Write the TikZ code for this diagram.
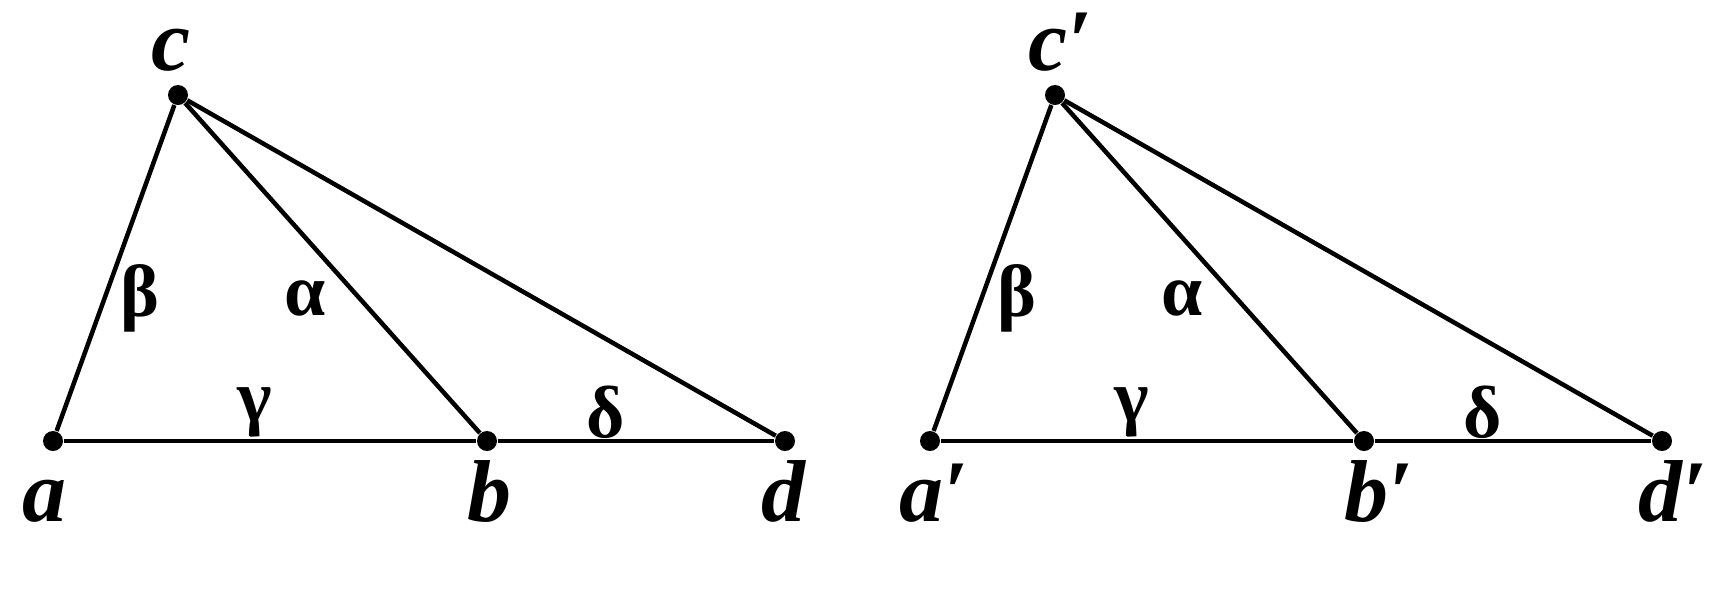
\documentclass[tikz,border=0pt]{standalone}
\usepackage{fontspec}
\setmainfont{Liberation Serif}
\usepackage{tikz}
\usetikzlibrary{positioning}

\tikzset{
  pt/.style={circle, fill=black, inner sep=0pt, minimum size=2mm},
  side/.style={line width=0.45mm},
  lbl/.style={font=\fontsize{25}{25}\selectfont\bfseries\itshape, inner sep=0pt, anchor=base west},
  gk/.style={font=\fontsize{21}{21}\selectfont\bfseries}
}

\begin{document}
\begin{tikzpicture}
\useasboundingbox (0,0) rectangle (17.25,5.99);

% Two triangles: original (left) and primed copy (right)
\foreach \sx/\pr in {0/{},8.77/{′}} {
\begin{scope}[shift={(\sx,0)}]
\node[pt] (a) at (0.53,1.58) {};
\node[pt] (b) at (4.87,1.58) {};
\node[pt] (d) at (7.85,1.58) {};
\node[pt] (c) at (1.78,5.04) {};

\draw[side] (a) -- (b) -- (d);
\draw[side] (a) -- (c);
\draw[side] (c) -- (b);
\draw[side] (c) -- (d);

\node[lbl] (la) at (0.22,0.78) {a\pr};
\node[lbl] (lb) at (4.67,0.78) {b\pr};
\node[lbl] (ld) at (7.61,0.78) {d\pr};
\node[lbl] (lc) at (1.51,5.29) {c\pr};

\node[gk] (beta) at (1.40,3.01) {β};
\node[gk] (alpha) at (3.05,3.01) {α};
\node[gk] (gamma) at (2.55,1.87) {γ};
\node[gk] (delta) at (6.06,1.87) {δ};
\end{scope}
}
\end{tikzpicture}
\end{document}
